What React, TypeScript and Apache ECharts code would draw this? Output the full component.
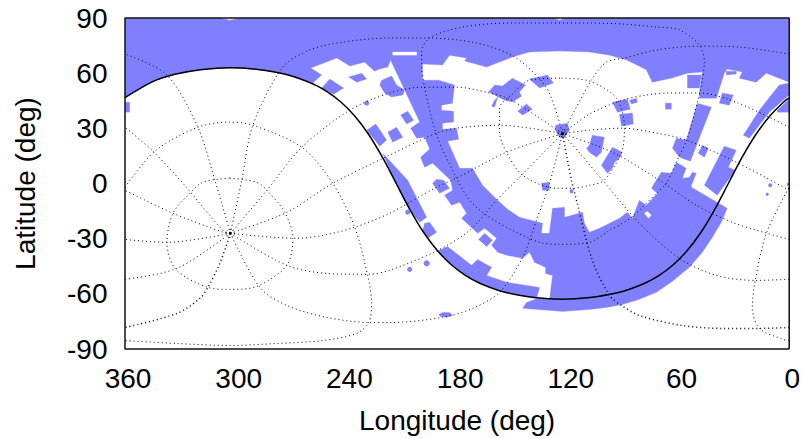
import React, { useEffect, useRef } from "react";
import * as echarts from "echarts";

type P = [number, number];

const frame: P[] = [[0, -90], [360, -90], [360, 90], [0, 90], [0, -90]];

const skyBand: P[] = [
  [360, 90], [0, 90], [0, 55.1], [12.4, 60], [17.9, 55.1], [27.1, 57.3], [25.4, 60.6], [33.6, 62.2], [35.2, 60], [39.5, 46.4],
  [48.7, 46.4], [48.7, 49.2], [47.1, 60.6], [55.2, 60], [63.9, 57.3], [74.2, 55.1], [77.4, 61.7], [81.2, 63.8], [88.2, 67.1], [97.4, 69.8],
  [108.3, 71.5], [124.5, 72], [140.8, 71.5], [150, 68.8], [164, 63.3], [175.9, 66.6], [174.9, 68.2], [184.1, 69.8], [187.9, 64.4],
  [198.7, 65], [198.7, 56.2], [190, 56.2], [181.4, 53.5], [182.5, 43.7], [188.4, 42.6], [188.4, 39.9], [181.9, 39.3], [181.9, 33.4],
  [187.9, 32.8], [187.9, 29.5], [180.3, 30.1], [179.2, 24.1], [185.1, 23], [178.6, 8.3], [171.6, 8.3], [166.2, -1], [162.4, -4.8], [158, -9.1],
  [152.7, -14], [146.2, -18.4], [133.7, -21.6], [134.3, -27.1], [130, -27.1], [128.3, -13.5], [121.8, -12.9], [121.8, -18.4], [112, -15.7],
  [111, -21.6], [108.3, -26.5], [102.9, -24.4], [97.4, -21.6], [92, -18.9], [87.7, -15.7], [85, -18.9], [81.2, -9.1], [77.4, -11.8], [71.5, -5.3], [74.7, -2.6],
  [73.1, 0.1], [69.3, 6.1], [63.9, 5.6], [61.2, 11.6], [55.8, 8.3], [57.9, 2.9], [54.1, 3.4], [52.5, 6.1], [50.4, 5.6], [53, -1],
  [53, -2], [33.6, -13.5], [36.8, -21.1], [41.7, -29.3], [47.1, -37.4], [54.1, -45.6], [63.3, -53.2], [72, -59.2], [81.2, -63], [90.4, -65.8], [99.1, -67.4], [108.3, -68.5], [122.9, -69.6], [144.5, -67.9],
  [142.4, -64.7], [136.4, -62.5], [129.9, -63], [128.3, -50], [132.1, -48.9], [132.1, -45.6], [138, -42.9], [140.8, -37.4],
  [144.5, -40.7], [152.7, -39.1], [158, -37.4], [161.3, -33.6], [158.6, -29.8], [165.1, -24.4], [168.9, -27.1], [177.6, -18.9],
  [174.9, -16.2], [178.6, -10.2], [183, -11.8], [186.8, -6.4], [182.4, -3.7], [183.5, 1.8], [193.3, 11], [197.6, 8.9], [199.8, 14.3],
  [194.9, 18.7], [197.6, 25.2], [201.9, 24.6], [205.2, 30.1], [200.3, 33.4], [215.5, 66], [216, 67.1], [217.6, 63.3], [221.9, 62.2],
  [224.7, 61.1], [230.1, 66], [238.2, 63.9], [245.2, 68.2], [259.3, 62.8], [253.4, 59], [258.2, 54.6], [273, 59.4], [288, 62],
  [303, 62.9], [318, 62], [333, 59.4], [345, 55.4], [360, 46.7],
];
const lowerArc: P[] = [[185.2, -34.2], [172.2, -44.5], [168.9, -41.3], [161.3, -45.6], [164, -50], [152.7, -53.8], [135.3, -56.5], [137, -62.5], [153, -59.4], [168, -54.1], [175.5, -49.9], [183, -44.3], [190.5, -36.7]];
const patches: P[][] = [
  [[360, 44.2], [357.5, 44.2], [357.5, 38.8], [360, 38.8]],
  [[253.4, 51.9], [249, 56.8], [241.5, 51.9], [246.9, 48.6]],
  [[238.8, 57.9], [231.7, 60], [229, 56.8], [234.4, 55.1]],
  [[220.9, 56.2], [215.5, 58.4], [212.8, 53.5], [208.4, 50.8], [209.5, 48.1], [215.5, 47], [219.3, 49.2], [221.9, 53.5]],
  [[229, 29], [224.1, 32.3], [218.2, 23.6], [221.9, 20.3]],
  [[217.6, 27.9], [212.8, 30.6], [209.5, 25.2], [214.9, 22.5]],
  [[210.6, 37.2], [206.8, 39.3], [203.6, 34.4], [207.3, 32.3]],
  [[220.3, 16.5], [206.8, 1.8], [196.5, -18.4], [200.3, -21.1], [205.7, -14.6], [213.3, 0.1]],
  [[197.6, -21.6], [194.9, -21.1], [191.1, -26.5], [196, -29.8], [198.7, -25.5]],
  [[193.3, 0.1], [189.5, -5.3], [184.1, -2.6], [187.3, 1.8], [191.1, 2.3]],
  [[168.4, -30.4], [165.1, -27.1], [160.8, -30.9], [164, -34.2]],
  [[190, -71.2], [187.9, -70.1], [184.1, -70.1], [182.4, -71.8], [185.7, -72.8], [189, -72.3]],
  [[134.3, 0.1], [130, 0.7], [130, -3.7], [133.7, -3.7]],
  [[126.7, 31.7], [120.2, 32.8], [119.1, 29], [121.8, 25.2], [124.5, 25.2], [126.7, 29]],
  [[162.9, 49.7], [159.7, 53.5], [155.4, 53], [150, 57.3], [142.9, 53.5], [146.2, 49.7], [145.1, 47.5], [150, 44.3], [154.3, 45.3]],
  [[159.7, 45.3], [158, 47], [159.7, 41.5], [161.3, 42.1]],
  [[140.8, 56.8], [131, 59], [127.8, 54.6], [135.3, 51.9]],
  [[147.2, 39.3], [142.4, 43.2], [139.2, 40.4], [144.5, 37.2]],
  [[106.7, 26.3], [100.2, 25.2], [101.8, 17], [104.5, 14.3], [108.3, 17], [109.9, 19.2], [108.3, 20.8]],
  [[95.8, 44.2], [87.7, 45.9], [86.1, 40.4], [93.1, 38.8]],
  [[86.6, 45.3], [82.8, 46.4], [82.3, 44.2], [85.5, 43.2]],
  [[92, 37.7], [85, 38.3], [84.5, 32.3], [90.9, 31.2]],
  [[67.1, 43.7], [63.9, 43.7], [63.9, 40.4], [67.1, 40.4]],
  [[101.8, 9.9], [95.8, 19.7], [90.4, 17], [92, 13.8], [94.7, 11.6], [95.8, 8.3], [98.5, 5.6]],
  [[63.3, 19.2], [61.2, 24.6], [55.8, 23.6], [49.8, 43.7], [42.2, 41.5], [53.6, 12.1], [59.5, 14.3]],
  [[49.3, 16.5], [47.1, 20.8], [43.8, 19.2], [46, 14.3]],
  [[37.9, 43.7], [36.3, 49.2], [30.3, 48.1], [32.5, 42.6]],
  [[46, -1], [35.2, 20.3], [28.7, 18.1], [33, 8.9], [29.2, 7.2], [36.3, -2.6], [39, -6.4]],
  [[55.2, 59], [47.6, 59], [48.7, 51.9], [55.2, 51.9]],
  [[34.1, 61.1], [28.7, 61.1], [28.7, 59.5], [34.1, 59]],
  [[24.9, 26.3], [16.2, 39.9], [5.4, 53.5], [0, 54.6], [0, 48.1], [10.8, 38.8], [21.6, 24.6]],
  [[6.5, 39.9], [0, 45.9], [0, 38.8], [6.5, 38.8]],
];
const holes: P[][] = [
  [[214.9, 71.5], [201.9, 71.5], [201.9, 69.8], [214.9, 69.8]],
  [[307.5, 90], [298.8, 90], [303.2, 88.9]],
  [[127.2, 90], [121.8, 90], [124.5, 88.9]],
  [[78.5, -16.2], [76.9, -15.1], [74.7, -17.3], [76.3, -18.9]],
];
const dots: [number, number, number][] = [
  [229, 43.7, 5], [206.8, -15.6, 5], [196.5, -43.4, 6], [205.7, -46.7, 5], [118, -4.2, 4], [10.3, -1, 4], [11.9, -5.9, 3], [0.5, -0.4, 3],
];

const equator: P[] = [
  [360, 46.7], [345, 55.4], [333, 59.4], [318, 62], [303, 62.9], [288, 62], [273, 59.4], [258, 54.1], [250.5, 49.9], [243, 44.3],
  [235.5, 36.7], [228, 26.8], [220.5, 14.3], [213, 0], [205.5, -14.3], [198, -26.8], [190.5, -36.7], [183, -44.3], [175.5, -49.9],
  [168, -54.1], [160.5, -57.1], [153, -59.4], [138, -62], [123, -62.9], [108, -62], [93, -59.4], [85.5, -57.1], [78, -54.1],
  [70.5, -49.9], [63, -44.3], [55.5, -36.7], [48, -26.8], [40.5, -14.3], [33, 0], [25.5, 14.3], [18, 26.8], [10.5, 36.7], [3, 44.3], [0, 46.7],
];

const decMinus60: P[] = [[303.2, 2.9], [288.6, 0.7], [283.1, -3.7], [273.4, -15.7], [269, -29.8], [272.3, -44.5], [288.6, -56], [303.2, -57.6], [315.1, -56.5], [332.4, -46.7], [337.3, -32], [334, -16.2], [324.8, -5.3], [317.8, 0.7], [303.2, 2.9]];
const decMinus30A: P[] = [[360, -2], [343.8, 17.6], [320.5, 30.6], [303.2, 33.4], [290.7, 31.7], [264.2, 19.7], [247.4, 0.1], [235.5, -23.8], [228.5, -50], [226.3, -65.2], [227.9, -75.6], [234.4, -81.5], [252.8, -85.4], [277.7, -87], [303.2, -88.1], [331.9, -87], [360, -85.4]];
const decMinus30B: P[] = [[0, -85.4], [3.2, -84.8], [16.2, -78.8], [20, -67.4], [18.4, -52.7], [12.4, -27.1], [0, -2]];
const decPlus60: P[] = [[123.4, 57.3], [108.3, 55.7], [93.6, 46.4], [89.3, 30.1], [90.9, 17], [100.2, 1.8], [108.3, -1], [117.5, -2.6], [126.1, -2.6], [144.5, 4.5], [153.2, 17], [157, 27.9], [157, 41], [150.5, 48.1], [140.8, 56.2], [123.4, 57.3]];
const decPlus30: P[] = [[199.2, 62.8], [199.2, 71.5], [194.9, 79.1], [177, 85.1], [150, 87.3], [108.3, 87.3], [90.4, 86.7], [72, 85.1], [59.5, 83.5], [48.7, 75.3], [46, 66], [47.6, 53.5], [49.8, 44.2], [55.2, 24.6], [61.2, 11.6], [66.6, 0.1], [72, -5.3], [85.5, -18.4], [97.4, -25.5], [108.3, -32], [124.5, -33.1], [135.3, -32], [150, -25.5], [164, -17.3], [173.2, -9.1], [180.3, 2.9], [191.1, 26.3], [197.6, 51.9], [199.2, 62.8]];

const south: P = [302.9, -27.1];
const north: P = [122.9, 27.1];
const raA1: P[] = [south, [308.6, -43.4], [315.1, -56.5], [319.4, -62.5], [331.9, -70.7], [360, -78.3]];
const raA2: P[] = [[0, -78.3], [16.2, -78.8], [36.3, -78.8], [57.9, -77.2], [81.2, -71.8], [90.9, -66.3], [97.4, -60.9], [106.7, -41.8], [115.3, -9.1], [118, 1.8], north];
const raC1: P[] = [south, [331.9, -46.2], [360, -52.1]];
const raC2: P[] = [[0, -52.1], [17.9, -52.7], [39.5, -50], [59.5, -40.7], [81.2, -21.6], [101.2, 1.8], [112.1, 14.8], north];
const raD1: P[] = [south, [337.3, -32], [360, -30.4]];
const raD2: P[] = [[0, -30.4], [11.9, -27.1], [30.9, -21.1], [50.3, -11.8], [70.4, 1.8], [95.8, 17], north];
const raE1: P[] = [south, [306.9, -26.5], [334, -16.2], [360, -3.7]];
const raE2: P[] = [[0, -3.7], [28.7, 11.6], [55.8, 23.6], [72, 27.4], [90.4, 30.1], [108.3, 29], north];
const raJ1: P[] = [south, [306.9, -25.5], [328.6, 0.1], [344.9, 17.6], [360, 30.6]];
const raJ2: P[] = [[0, 30.6], [28.7, 44.2], [48.7, 49.2], [64.9, 49.2], [77.4, 48.1], [90.4, 45.3], [108.3, 37.7], north];
const raI1: P[] = [south, [311.3, 1.8], [320.5, 30.6], [337.3, 59], [360, 70.4]];
const raI2: P[] = [[0, 70.4], [27.1, 74.2], [48.7, 74.7], [72, 72.6], [89.3, 68.2], [99.1, 66], [107.2, 56.2], north];
const raH: P[] = [south, [296.7, 1.8], [290.7, 31.7], [274.5, 63.3], [259.9, 72.6], [242, 76.9], [216.6, 79.1], [196.5, 79.1], [169.4, 76.4], [148.9, 68.8], [131.5, 51.9], north];
const raG: P[] = [south, [283.1, -3.7], [264.2, 19.7], [238.2, 39.9], [216.6, 49.2], [198.7, 52.4], [180.3, 52.4], [162.4, 49.2], [150.5, 45.3], north];
const raF: P[] = [south, [272.3, -15.7], [247.4, 0.1], [216.6, 15.4], [191.1, 27.4], [180.3, 30.1], [157, 31.7], north];
const raK: P[] = [south, [266.9, -29.8], [252.8, -28.2], [235.5, -23.8], [216.6, -16.2], [192.2, -2.6], [180.3, 2.9], [153.2, 17], north];
const raL: P[] = [south, [272.3, -44.5], [250.7, -48.9], [228.5, -49.4], [216.6, -47.2], [190.6, -36.4], [173.2, -25.5], [158.6, -9.1], [147.8, 1.8], north];
const raM: P[] = [south, [286.9, -56.5], [272.3, -66.3], [250.7, -72.8], [227.4, -75.6], [216.6, -75.6], [187.9, -72.8], [171.6, -67.9], [157, -59.2], [144.5, -40.2], [137, -20], [129.9, 0.1], north];

const FONT = "Liberation Sans";
const BLUE = "#8080ff";

function polygonSeries(polys: P[][], fill: string, z: number) {
  return {
    type: "custom" as const,
    z,
    clip: true,
    silent: true,
    data: polys.map((p) => p[0]),
    encode: { x: 0, y: 1 },
    renderItem: (params: any, api: any) => ({
      type: "polygon",
      shape: { points: polys[params.dataIndex].map((q) => api.coord(q)) },
      style: { fill, stroke: fill, lineWidth: 0.3 },
    }),
  };
}

function dottedLine(data: P[], width = 1) {
  return {
    type: "line" as const,
    data,
    z: 5,
    symbol: "none",
    smooth: 0.3,
    silent: true,
    lineStyle: { color: "#000", width, type: [1, 3] as number[] },
  };
}

export default function App() {
  const ref = useRef<HTMLDivElement>(null);
  useEffect(() => {
    document.body.style.margin = "0";
    const chart = echarts.init(ref.current!, undefined, { renderer: "svg" });
    const thin = [decMinus60, decMinus30A, decMinus30B, decPlus60, decPlus30, raC1, raC2, raD1, raD2, raE1, raE2, raJ1, raJ2, raI1, raI2, raH, raG, raF, raK, raL, raM];
    chart.setOption({
      animation: false,
      backgroundColor: "#fff",
      grid: { left: 125, right: 13.5, top: 18, bottom: 90, show: false },
      xAxis: {
        type: "value", inverse: true, min: 0, max: 360, interval: 60,
        name: "Longitude (deg)", nameLocation: "middle", nameGap: 57,
        nameTextStyle: { fontFamily: FONT, fontSize: 28, color: "#000" },
        axisLabel: { fontFamily: FONT, fontSize: 28, color: "#000", margin: 15, padding: [0, 0, 0, 6] },
        axisTick: { show: false }, axisLine: { show: false }, splitLine: { show: false },
      },
      yAxis: {
        type: "value", min: -90, max: 90, interval: 30,
        name: "Latitude (deg)", nameLocation: "middle", nameGap: 86,
        nameTextStyle: { fontFamily: FONT, fontSize: 28, color: "#000" },
        axisLabel: { fontFamily: FONT, fontSize: 28, color: "#000", margin: 17.5 },
        axisTick: { show: false }, axisLine: { show: false }, splitLine: { show: false },
      },
      series: [
        polygonSeries([skyBand, lowerArc, ...patches], BLUE, 1),
        polygonSeries(holes, "#ffffff", 2),
        {
          type: "scatter", z: 1, silent: true, data: dots,
          symbolSize: (v: number[]) => v[2],
          itemStyle: { color: BLUE, opacity: 1 },
        },
        ...thin.map((d) => dottedLine(d)),
        dottedLine(raA1, 1.5),
        dottedLine(raA2, 1.5),
        {
          type: "scatter", z: 6, silent: true, data: [south, north], symbolSize: 8,
          itemStyle: { color: "transparent", borderColor: "#000", borderWidth: 1, borderType: [1, 2] },
        },
        { type: "scatter", z: 6, silent: true, data: [south, north], symbolSize: 3, itemStyle: { color: "#000", opacity: 1 } },
        {
          type: "line", z: 7, data: equator, symbol: "none", smooth: 0.3, silent: true,
          lineStyle: { color: "#000", width: 1.5 },
        },
        {
          type: "line", z: 8, data: frame, symbol: "none", silent: true, clip: false,
          lineStyle: { color: "#111", width: 1.5 },
        },
      ],
    });
    return () => chart.dispose();
  }, []);
  return <div ref={ref} style={{ width: 803, height: 439 }} />;
}
